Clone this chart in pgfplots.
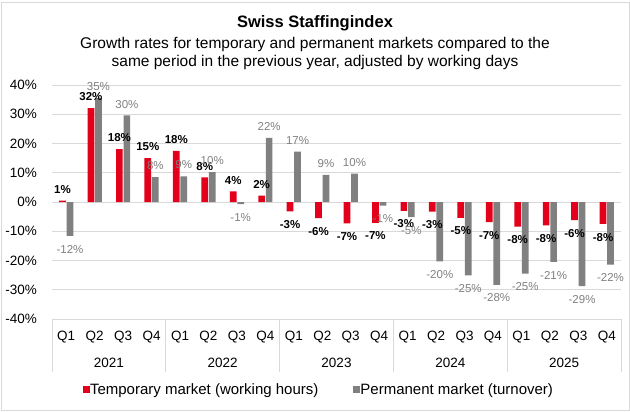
\documentclass[border=0pt]{standalone}
\usepackage{fontspec}
\setmainfont{Liberation Sans}
\usepackage{pgfplots}
\usepackage{pgfplotstable}
\pgfplotsset{compat=1.18}

\definecolor{tempred}{HTML}{E2001A}
\definecolor{permgray}{HTML}{808080}
\definecolor{gridgray}{HTML}{D9D9D9}

% quarter index, temporary (value, label), permanent (value, label)
\pgfplotstableread{
x  tmp   tmplab perm  permlab
0   0.5   1    -11.6  -12
1  32.1  32     35.5   35
2  18.1  18     29.6   30
3  15.0  15      8.5    8
4  17.5  18      8.8    9
5   8.4   8     10.2   10
6   3.6   4     -0.7   -1
7   2.2   2     21.9   22
8  -3.2  -3     17.2   17
9  -5.5  -6      9.3    9
10 -7.3  -7      9.7   10
11 -7.1  -7     -1.2   -1
12 -3.0  -3     -5.2   -5
13 -3.3  -3    -20.3  -20
14 -5.4  -5    -25.1  -25
15 -6.9  -7    -28.3  -28
16 -8.4  -8    -24.5  -25
17 -8.0  -8    -20.5  -21
18 -6.2  -6    -28.8  -29
19 -7.5  -8    -21.4  -22
}\staffing

\begin{document}
\begin{tikzpicture}
\begin{axis}[
    scale only axis,
    width=569bp, height=234bp,
    at={(0,0)}, anchor=south west,
    xmin=-0.5, xmax=19.5,
    ymin=-40, ymax=40,
    clip=false,
    axis line style={draw=none},
    major tick length=0pt,
    tick style={draw=none},
    ytick={-40,-30,...,40},
    yticklabels={-40\%,-30\%,-20\%,-10\%,0\%,10\%,20\%,30\%,40\%},
    xtick={0,...,19},
    xticklabels={Q1,Q2,Q3,Q4,Q1,Q2,Q3,Q4,Q1,Q2,Q3,Q4,Q1,Q2,Q3,Q4,Q1,Q2,Q3,Q4},
    tick label style={font=\fontsize{13.5bp}{16bp}\selectfont},
    yticklabel style={anchor=east, inner sep=0pt, xshift=-15bp},
    xticklabel style={anchor=center, inner sep=0pt, yshift=-18bp},
    ymajorgrids,
    grid style={gridgray, line width=0.8bp},
    ybar=0.8bp, bar width=6.7bp,
    point meta=explicit symbolic,
    nodes near coords={\pgfplotspointmeta\%},
    visualization depends on={y \as \rawy},
    every node near coord/.append style={anchor=south, inner ysep=7bp,
        yshift={ifthenelse(\rawy<0,-24.5,0)}},
    legend style={at={(0.4675,-0.303)}, anchor=center, draw=none, fill=none,
        legend columns=2, font=\fontsize{15bp}{17bp}\selectfont,
        nodes={inner xsep=0.5bp, inner ysep=1.5bp},
        /tikz/every even column/.append style={column sep=34bp}},
    legend image code/.code={\fill[#1,draw=none] (0bp,-3.5bp) rectangle (7bp,3.5bp);},
]
\addplot[fill=tempred, draw=none,
    every node near coord/.append style={black, font=\bfseries\fontsize{11.5bp}{13bp}\selectfont}]
    table[x=x, y=tmp, meta=tmplab] {\staffing};
\addlegendentry{Temporary market (working hours)}
\addplot[fill=permgray, draw=none,
    every node near coord/.append style={permgray, font=\fontsize{11.5bp}{13bp}\selectfont}]
    table[x=x, y=perm, meta=permlab] {\staffing};
\addlegendentry{Permanent market (turnover)}
\end{axis}

% two-level category axis: dividers and year labels (one quarter = 28.45bp)
\foreach \k in {0,...,5}{
    \draw[gridgray, line width=0.8bp] ({\k*113.8bp},0) -- ++(0,-53bp);
}
\foreach \k/\yr in {0/2021,1/2022,2/2023,3/2024,4/2025}{
    \node[font=\fontsize{13.5bp}{16bp}\selectfont, inner sep=0pt]
        at ({\k*113.8bp+56.9bp},-44bp) {\yr};
}

\node[font=\bfseries\fontsize{16.5bp}{19bp}\selectfont] at (263bp,296bp) {Swiss Staffingindex};
\node[font=\fontsize{15.5bp}{17.5bp}\selectfont, align=center] at (263bp,265.5bp)
    {Growth rates for temporary and permanent markets compared to the\\
     same period in the previous year, adjusted by working days};

\draw[gridgray, line width=0.8bp] (-51bp,-91bp) rectangle (577bp,317bp);
\path[use as bounding box] (-52bp,-93bp) rectangle (578bp,319bp);
\end{tikzpicture}
\end{document}
